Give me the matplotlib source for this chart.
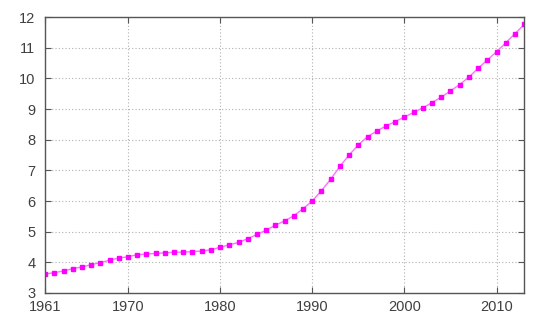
import matplotlib
matplotlib.use("Agg")
import matplotlib.pyplot as plt

years = list(range(1961, 2014))
values = [3.62, 3.66, 3.72, 3.79, 3.85, 3.92, 3.99, 4.07, 4.14, 4.18,
          4.25, 4.27, 4.29, 4.31, 4.33, 4.33, 4.35, 4.37, 4.41, 4.49,
          4.57, 4.65, 4.77, 4.91, 5.05, 5.21, 5.35, 5.52, 5.75, 6.00,
          6.34, 6.71, 7.13, 7.50, 7.83, 8.10, 8.28, 8.45, 8.59, 8.74,
          8.89, 9.04, 9.21, 9.39, 9.59, 9.80, 10.04, 10.33, 10.60, 10.87,
          11.16, 11.46, 11.76]
x_ticks = [1961, 1970, 1980, 1990, 2000, 2010]
y_ticks = [3, 4, 5, 6, 7, 8, 9, 10, 11, 12]

plt.rcParams['font.family'] = ['Liberation Sans', 'DejaVu Sans']

fig = plt.figure(figsize=(5.5, 3.23), dpi=100)
ax = fig.add_axes([0.082, 0.093, 0.871, 0.854])

ax.plot(years, values, color='#ff70ff', linewidth=1.0, marker='s',
        markersize=3.2, markerfacecolor='#ff00ff', markeredgecolor='#ff00ff')

ax.set_xlim(1961, 2013)
ax.set_ylim(3, 12)
ax.set_xticks(x_ticks)
ax.set_yticks(y_ticks)

for v in x_ticks[1:]:
    ax.axvline(v, color='#b0b0b0', linestyle=(0, (1, 2)), linewidth=0.8, zorder=0)
for v in y_ticks[1:-1]:
    ax.axhline(v, color='#b0b0b0', linestyle=(0, (1, 2)), linewidth=0.8, zorder=0)

for s in ax.spines.values():
    s.set_color('#555555')
    s.set_linewidth(1.0)
ax.tick_params(direction='in', length=4, color='#555555', labelcolor='#404040',
               labelsize=10.5, top=True, right=True)
ax.tick_params(axis='x', pad=5)
ax.tick_params(axis='y', pad=7)

fig.savefig('out.png', dpi=100)
